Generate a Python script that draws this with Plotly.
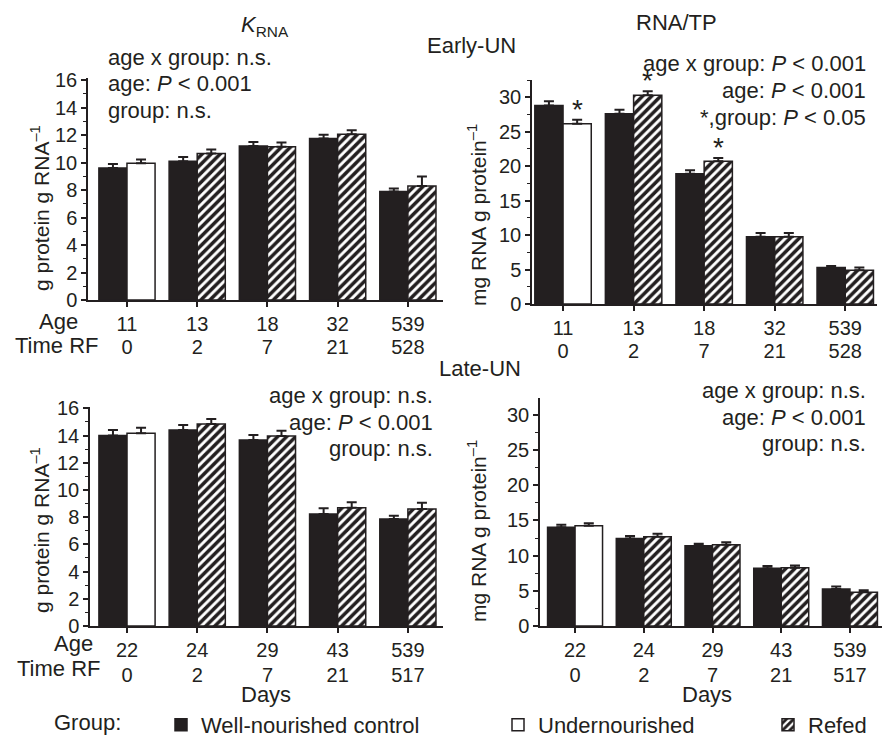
import plotly.graph_objects as go

# ---------------- data ----------------
ages_early = ["11", "13", "18", "32", "539"]
rf_early = ["0", "2", "7", "21", "528"]
ages_late = ["22", "24", "29", "43", "539"]
rf_late = ["0", "2", "7", "21", "517"]

# index 0 of the "treated" series = Undernourished, indices 1-4 = Refed
krna_early_ctrl = [9.6, 10.1, 11.2, 11.75, 7.9]
krna_early_ctrl_err = [0.3, 0.3, 0.3, 0.27, 0.22]
krna_early_trt = [9.95, 10.65, 11.15, 12.05, 8.3]
krna_early_trt_err = [0.28, 0.3, 0.3, 0.3, 0.68]

rnatp_early_ctrl = [28.8, 27.6, 18.9, 9.75, 5.3]
rnatp_early_ctrl_err = [0.6, 0.6, 0.5, 0.55, 0.22]
rnatp_early_trt = [26.15, 30.3, 20.7, 9.75, 4.9]
rnatp_early_trt_err = [0.6, 0.55, 0.5, 0.55, 0.4]
rnatp_early_sig = [True, True, True, False, False]

krna_late_ctrl = [14.0, 14.4, 13.68, 8.24, 7.87]
krna_late_ctrl_err = [0.4, 0.38, 0.36, 0.41, 0.24]
krna_late_trt = [14.17, 14.85, 13.97, 8.7, 8.6]
krna_late_trt_err = [0.41, 0.37, 0.39, 0.4, 0.47]

rnatp_late_ctrl = [14.05, 12.43, 11.4, 8.2, 5.27]
rnatp_late_ctrl_err = [0.33, 0.37, 0.3, 0.34, 0.33]
rnatp_late_trt = [14.24, 12.7, 11.53, 8.26, 4.8]
rnatp_late_trt_err = [0.36, 0.4, 0.37, 0.34, 0.28]

group_names = ["Well-nourished control", "Undernourished", "Refed"]

# ---------------- style ----------------
OFF = 8                      # default page (body) margin of the browser
W, H = 890 - OFF, 740 - OFF  # figure fills the rest of the window
FONT = "Liberation Sans"
INK = "#231f20"
FS_TICK = 20
FS_TXT = 22


def px(x, y):
    """window pixel -> paper fraction"""
    return (x - OFF) / W, 1 - (y - OFF) / H


fig = go.Figure()

panels = [
    dict(ax="", ctrl=krna_early_ctrl, ce=krna_early_ctrl_err, trt=krna_early_trt, te=krna_early_trt_err,
         ages=ages_early, rf=rf_early),
    dict(ax="2", ctrl=rnatp_early_ctrl, ce=rnatp_early_ctrl_err, trt=rnatp_early_trt, te=rnatp_early_trt_err,
         ages=ages_early, rf=rf_early),
    dict(ax="3", ctrl=krna_late_ctrl, ce=krna_late_ctrl_err, trt=krna_late_trt, te=krna_late_trt_err,
         ages=ages_late, rf=rf_late),
    dict(ax="4", ctrl=rnatp_late_ctrl, ce=rnatp_late_ctrl_err, trt=rnatp_late_trt, te=rnatp_late_trt_err,
         ages=ages_late, rf=rf_late),
]

BW = 0.4
legend_ids = ["legend", "legend2", "legend3"]
for i, p in enumerate(panels):
    xa, ya = "x" + p["ax"], "y" + p["ax"]
    n = len(p["ctrl"])
    idx = list(range(n))
    show = i == 0
    err_style = dict(type="data", symmetric=False, color=INK, thickness=2, width=5)
    # control
    fig.add_trace(go.Bar(
        x=idx, y=p["ctrl"], width=BW, offset=-BW, xaxis=xa, yaxis=ya,
        marker=dict(color=INK, line=dict(color=INK, width=1.5)),
        error_y=dict(array=p["ce"], arrayminus=[0] * n, **err_style),
        name=group_names[0], legendgroup="c", showlegend=show, legend=legend_ids[0]))
    # undernourished (first age only)
    un_y = [p["trt"][0]] + [None] * (n - 1)
    un_e = [p["te"][0]] + [0] * (n - 1)
    fig.add_trace(go.Bar(
        x=idx, y=un_y, width=BW, offset=0, xaxis=xa, yaxis=ya,
        marker=dict(color="white", line=dict(color=INK, width=1.5)),
        error_y=dict(array=un_e, arrayminus=[0] * n, **err_style),
        name=group_names[1], legendgroup="u", showlegend=show, legend=legend_ids[1]))
    # refed
    rf_y = [None] + p["trt"][1:]
    rf_e = [0] + p["te"][1:]
    fig.add_trace(go.Bar(
        x=idx, y=rf_y, width=BW, offset=0, xaxis=xa, yaxis=ya,
        marker=dict(color="white", line=dict(color=INK, width=1.5),
                    pattern=dict(shape="/", fgcolor=INK, bgcolor="white", fgopacity=1,
                                 size=6.4, solidity=0.55)),
        error_y=dict(array=rf_e, arrayminus=[0] * n, **err_style),
        name=group_names[2], legendgroup="r", showlegend=show, legend=legend_ids[2]))

axis_common = dict(showline=True, linecolor=INK, linewidth=1.5, ticks="outside", ticklen=5,
                   tickwidth=1.5, tickcolor=INK, showgrid=False, zeroline=False, automargin=False,
                   tickfont=dict(family=FONT, size=FS_TICK, color=INK))

# window-pixel extents of every panel
x_domains = [(88, 443), (532, 877), (90, 443), (540, 885)]
y_domains = [(300, 78), (304, 80), (626, 407), (626, 398)]
x_ranges = [[-0.555, 4.5], [-0.44, 4.45], [-0.527, 4.5], [-0.51, 4.51]]
y_ranges = [[0, 16.15], [0, 32.5], [0, 16.1], [0, 32.4]]
y_dticks = [2, 5, 2, 5]
row2_standoff = [24, 24, 26, 26]

layout_axes = {}
for i, p in enumerate(panels):
    xn = "xaxis" + p["ax"]
    yn = "yaxis" + p["ax"]
    x0, x1 = x_domains[i]
    yb, yt = y_domains[i]
    dx0, _ = px(x0, 0)
    dx1, _ = px(x1, 0)
    _, dyb = px(0, yb)
    _, dyt = px(0, yt)
    layout_axes[xn] = dict(
        domain=[dx0, dx1], range=x_ranges[i], anchor="y" + p["ax"],
        tickvals=list(range(len(p["ages"]))), ticktext=p["ages"],
        **axis_common)
    layout_axes[yn] = dict(
        domain=[dyb, dyt], range=y_ranges[i], anchor="x" + p["ax"],
        dtick=y_dticks[i], tick0=0,
        minor=dict(dtick=y_dticks[i] / 2, ticks="outside", ticklen=3, tickcolor=INK, tickwidth=1.2),
        **axis_common)
    # second row of x labels (time since refeeding) on an overlaying axis
    k = 5 + i
    ov = dict(axis_common)
    ov.update(showline=False, tickcolor="rgba(0,0,0,0)")
    layout_axes["xaxis%d" % k] = dict(
        overlaying="x" + p["ax"], anchor="y" + p["ax"], range=x_ranges[i],
        tickvals=list(range(len(p["rf"]))), ticktext=p["rf"],
        ticklabelstandoff=row2_standoff[i], side="bottom", **ov)
    fig.add_trace(go.Scatter(x=[], y=[], xaxis="x%d" % k, yaxis="y" + p["ax"],
                             showlegend=False, hoverinfo="skip"))

annotations = []


def txt(text, x, y, xanchor="center", yanchor="middle", size=FS_TXT, angle=0):
    ax_, ay_ = px(x, y)
    annotations.append(dict(text=text, x=ax_, y=ay_, xref="paper", yref="paper", showarrow=False,
                            xanchor=xanchor, yanchor=yanchor, textangle=angle,
                            font=dict(family=FONT, size=size, color=INK)))


# titles
txt("<i>K</i><sub>RNA</sub>", 265, 26)
txt("RNA/TP", 676, 22)
txt("Early-UN", 471, 45)
txt("Late-UN", 480, 368)

# statistics
txt("age x group: n.s.", 106, 57, xanchor="left")
txt("age: <i>P</i> &lt; 0.001", 106, 83, xanchor="left")
txt("group: n.s.", 106, 110, xanchor="left")

txt("age x group: <i>P</i> &lt; 0.001", 868, 63, xanchor="right")
txt("age: <i>P</i> &lt; 0.001", 868, 90, xanchor="right")
txt("*,group: <i>P</i> &lt; 0.05", 868, 117, xanchor="right")

txt("age x group: n.s.", 435, 395, xanchor="right")
txt("age: <i>P</i> &lt; 0.001", 435, 422, xanchor="right")
txt("group: n.s.", 435, 448, xanchor="right")

txt("age x group: n.s.", 868, 390, xanchor="right")
txt("age: <i>P</i> &lt; 0.001", 868, 417, xanchor="right")
txt("group: n.s.", 868, 443, xanchor="right")

# significance stars (data coordinates)
for k, s in enumerate(rnatp_early_sig):
    if s:
        annotations.append(dict(text="*", x=k + BW / 2, y=rnatp_early_trt[k] + rnatp_early_trt_err[k],
                                xref="x2", yref="y2", showarrow=False, xanchor="center", yanchor="bottom",
                                yshift=-7, font=dict(family=FONT, size=28, color=INK)))

# row labels
txt("Age", 80, 322, xanchor="right")
txt("Time RF", 101, 345, xanchor="right")
txt("Age", 95, 643, xanchor="right")
txt("Time RF", 103, 668, xanchor="right")

# axis titles
txt("Days", 266, 694)
txt("Days", 707, 694)
yt1 = "g protein g RNA<sup>\u20131</sup>"
yt2 = "mg RNA g protein<sup>\u20131</sup>"
txt(yt1, 40, 208, angle=-90, size=21)
txt(yt2, 477, 215, angle=-90, size=21)
txt(yt1, 40, 530, angle=-90, size=21)
txt(yt2, 477, 531, angle=-90, size=21)

# legend label
txt("Group:", 123, 722, xanchor="right")

legend_x = [161, 498, 768]
legends = {}
for j, lid in enumerate(legend_ids):
    lx, ly = px(legend_x[j], 725)
    legends[lid] = dict(orientation="h", x=lx, y=ly, xanchor="left", yanchor="middle",
                        font=dict(family=FONT, size=FS_TXT, color=INK), bgcolor="rgba(0,0,0,0)")

fig.update_layout(
    width=W, height=H, margin=dict(l=0, r=0, t=0, b=0, autoexpand=False),
    paper_bgcolor="white", plot_bgcolor="white",
    barmode="overlay",
    font=dict(family=FONT, size=FS_TICK, color=INK),
    annotations=annotations,
    **legends,
    **layout_axes,
)

fig.write_html("out.html")
